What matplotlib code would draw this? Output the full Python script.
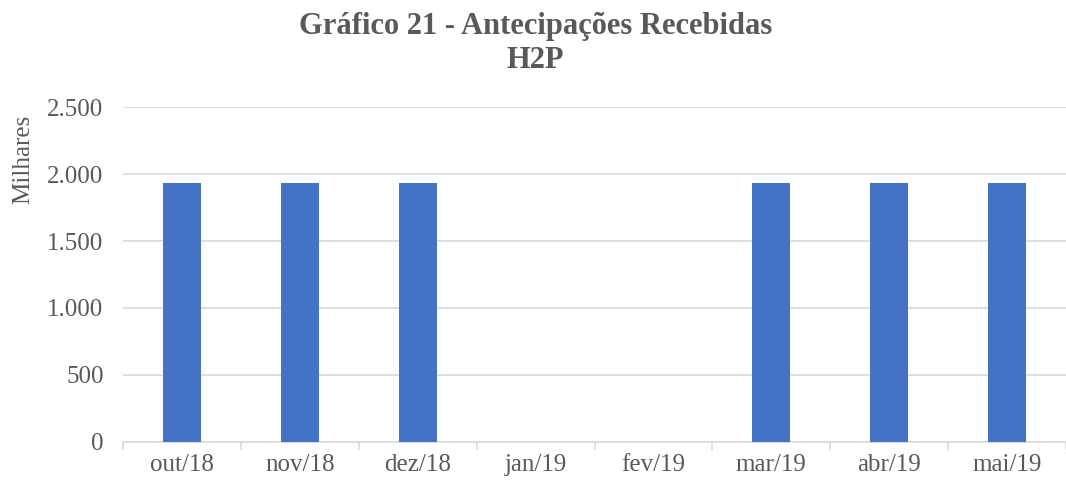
import matplotlib
matplotlib.use('Agg')
import matplotlib.pyplot as plt
from matplotlib.ticker import FuncFormatter, FixedLocator

meses = ['out/18', 'nov/18', 'dez/18', 'jan/19', 'fev/19', 'mar/19', 'abr/19', 'mai/19']
valores = [1933, 1933, 1933, 0, 0, 1933, 1933, 1933]  # milhares

cinza = '#595959'
plt.rcParams['font.family'] = ['Liberation Serif', 'DejaVu Serif']

fig = plt.figure(figsize=(10.66, 4.88), dpi=100)
ax = fig.add_axes([0.1154, 0.0943, 0.8846, 0.6864])

x = range(len(meses))
ax.bar(x, valores, width=0.32, color='#4472c4', zorder=3)

ax.set_xlim(-0.5, len(meses) - 0.5)
ax.set_ylim(0, 2500)
ax.set_yticks([0, 500, 1000, 1500, 2000, 2500])
ax.yaxis.set_major_formatter(FuncFormatter(lambda v, p: f'{int(v):,}'.replace(',', '.')))
ax.grid(axis='y', color='#d9d9d9', linewidth=1.2, zorder=0)

ax.set_xticks(list(x))
ax.set_xticklabels(meses)
ax.xaxis.set_minor_locator(FixedLocator([i - 0.5 for i in range(len(meses) + 1)]))
ax.tick_params(axis='x', which='major', length=0, pad=9, labelsize=18, labelcolor=cinza)
ax.tick_params(axis='x', which='minor', length=6, width=1.2, color='#d9d9d9')
ax.tick_params(axis='y', length=0, pad=14, labelsize=18, labelcolor=cinza)

for s in ['top', 'right', 'left']:
    ax.spines[s].set_visible(False)
ax.spines['bottom'].set_color('#d9d9d9')
ax.spines['bottom'].set_linewidth(1.2)

ax.set_ylabel('Milhares', fontsize=18, color=cinza)
ax.yaxis.set_label_coords(-0.094, 0.845)

fig.text(0.502, 0.975, 'Gráfico 21 - Antecipações Recebidas\nH2P', ha='center', va='top',
         fontsize=22, fontweight='bold', color=cinza, linespacing=1.2)

fig.savefig('out.png', dpi=100)
